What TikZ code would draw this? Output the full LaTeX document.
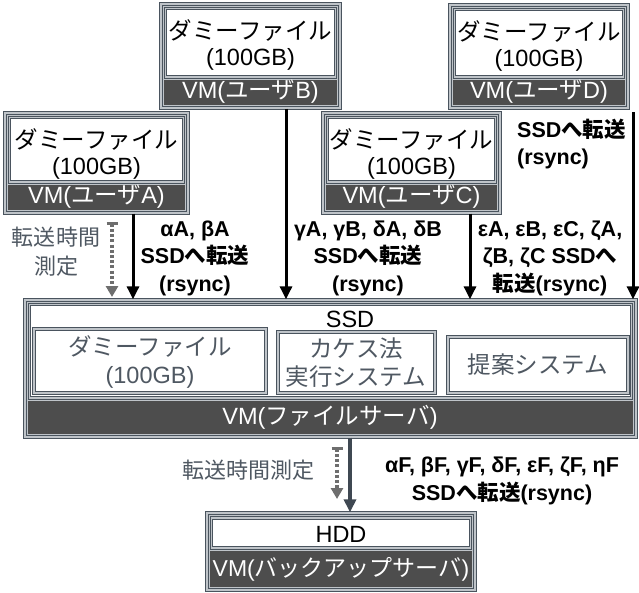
\documentclass[tikz,border=0pt]{standalone}
\usepackage{fontspec}
\setmainfont{Liberation Sans}
\newfontfamily\jp{Noto Sans CJK JP}
\usetikzlibrary{arrows.meta,fit}
\definecolor{fr}{HTML}{4A545E}
\definecolor{gapg}{HTML}{BFC4C9}
\definecolor{barg}{HTML}{4D4D4D}
\definecolor{txtg}{HTML}{4F5862}
\definecolor{dotg}{HTML}{6E6E6E}
\definecolor{darrc}{HTML}{3F4852}
\tikzset{
  outerbox/.style={draw=fr, line width=1.3pt, double=gapg, double distance=2pt, fill=gapg, inner sep=0pt},
  whitebox/.style={draw=fr, line width=0.9pt, double=gapg, double distance=1.4pt, fill=white, inner sep=0pt},
  barbox/.style={fill=barg, draw=none, inner sep=0pt},
  boxtxt/.style={font=\fontsize{23.5}{28}\selectfont, inner sep=0pt},
  bartxt/.style={boxtxt, text=white},
  graytxt/.style={boxtxt, text=txtg, align=center},
  lbl/.style={font=\bfseries\fontsize{21.5}{27.5}\selectfont, align=center, inner sep=0pt},
  glbl/.style={font=\fontsize{22}{29}\selectfont, text=txtg, align=center, inner sep=0pt},
  arr/.style={line width=3pt, -{Triangle[width=12pt,length=13pt]}},
  dotarr/.style={draw=dotg, line width=4pt, dash pattern=on 3pt off 2.2pt,
     {Bar[width=11pt,line width=2.5pt]}-{Triangle[width=12pt,length=11pt]}},
}
\newcommand\uservm[6]{%
  \node[outerbox, fit={(#2,#3) (#4,#5)}] (#1) {};
  \node[whitebox, fit={({#2+4.5},{#3+4.5}) ({#4-4.5},{#5-31})}] (#1w) {};
  \node[barbox, fit={({#2+3},{#5-28}) ({#4-3},{#5-3})}] (#1b) {};
  \node[boxtxt] (#1t1) at ({(#2+#4)/2},{#3+26}) {\jp ダミーファイル};
  \node[boxtxt] (#1t2) at ({(#2+#4)/2},{#3+55}) {(100GB)};
  \node[bartxt] (#1t3) at ({(#2+#4)/2},{#5-16}) {VM({\jp ユーザ}#6)};
}
\begin{document}
\begin{tikzpicture}[x=1pt,y=-1pt]
\useasboundingbox (0,0) rectangle (639,592);
% user VMs
\uservm{vmB}{161}{4}{340}{108}{B}
\uservm{vmD}{450}{5}{628}{108}{D}
\uservm{vmA}{5}{113}{188}{213}{A}
\uservm{vmC}{323}{113}{500}{213}{C}

% file server
\node[outerbox, fit={(25,300) (636,437)}] (ssd) {};
\node[whitebox, fit={(29.5,304.5) (631.5,398)}] (ssdw) {};
\node[barbox, fit={(28,401) (633,434)}] (ssdb) {};
\node[boxtxt] (ssdt) at (350,319) {SSD};
\node[bartxt] (ssdbt) at (330,417) {VM({\jp ファイルサーバ})};
\node[whitebox, fit={(34,329) (266,393)}] (dum) {};
\node[graytxt] (dumt) at (150,362) {{\jp ダミーファイル}\\(100GB)};
\node[whitebox, fit={(278,332) (435,393)}] (kak) {};
\node[graytxt] (kakt) at (356,363) {\jp カケス法\\\jp 実行システム};
\node[whitebox, fit={(448,337) (628,393)}] (pro) {};
\node[graytxt] (prot) at (538,365) {\jp 提案システム};

% backup server
\node[outerbox, fit={(207,513) (475,590)}] (hdd) {};
\node[whitebox, fit={(211.5,518) (470.5,548)}] (hddw) {};
\node[barbox, fit={(210,551) (472,587)}] (hddb) {};
\node[boxtxt] (hddt) at (341,534) {HDD};
\node[bartxt, font=\fontsize{23}{28}\selectfont] (hddbt) at (341,569) {VM({\jp バックアップサーバ})};

% arrow positions
\coordinate (xA) at (133,0);
\coordinate (xB) at (286,0);
\coordinate (xC) at (470,0);
\coordinate (dS) at (633,112);
\coordinate (t1s) at (112,222);
\coordinate (t1e) at (112,297);
\coordinate (xF) at (350,0);
\coordinate (t2s) at (337,447);
\coordinate (t2e) at (337,499);

\draw[arr] (vmA.south -| xA) -- (ssd.north -| xA);
\draw[arr] (vmB.south -| xB) -- (ssd.north -| xB);
\draw[arr] (vmC.south -| xC) -- (ssd.north -| xC);
\draw[arr] (dS) -- (ssd.north -| dS);
\draw[dotarr] (t1s) -- (t1e);
\draw[arr, draw=darrc, color=darrc, line width=3.5pt] (ssd.south -| xF) -- (hdd.north -| xF);
\draw[dotarr] (t2s) -- (t2e);

% labels
\node[glbl] (lt1) at (56,252) {\jp 転送時間\\\jp 測定};
\node[lbl] (lA) at (195,258) {αA, βA\\SSD{\jp へ転送}\\(rsync)};
\node[lbl] (lB) at (368,258) {γA, γB, δA, δB\\SSD{\jp へ転送}\\(rsync)};
\node[lbl] (lC) at (550,258) {εA, εB, εC, ζA,\\ζB, ζC SSD{\jp へ}\\{\jp 転送}(rsync)};
\node[lbl, align=left, anchor=west] (lD) at (517,144) {SSD{\jp へ転送}\\(rsync)};
\node[glbl] (lt2) at (248,470) {\jp 転送時間測定};
\node[lbl] (lF) at (502,481) {αF, βF, γF, δF, εF, ζF, ηF\\SSD{\jp へ転送}(rsync)};
\end{tikzpicture}
\end{document}
